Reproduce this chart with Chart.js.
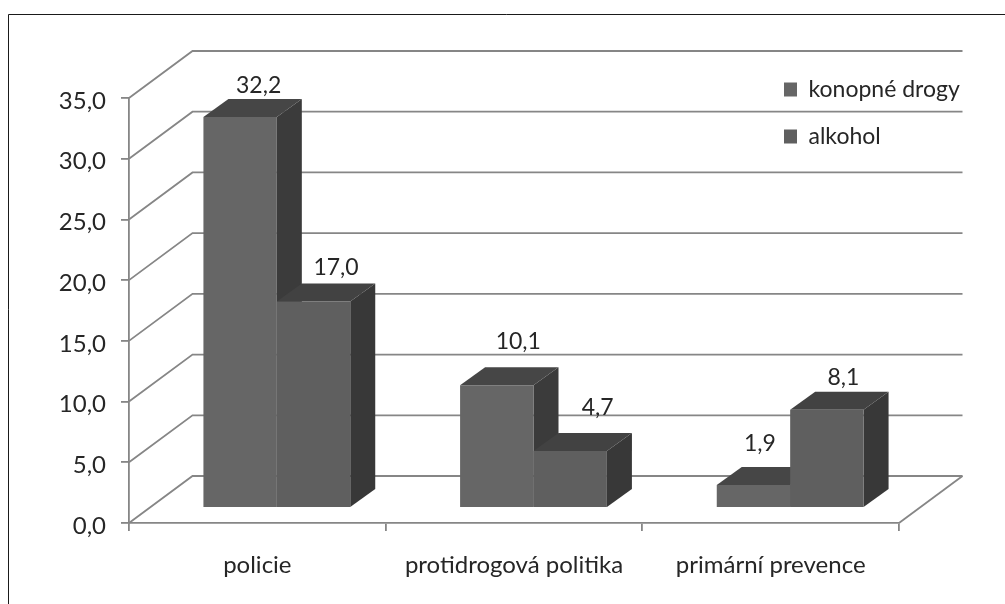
<!DOCTYPE html>
<html>
<head>
<meta charset="utf-8">
<title>konopné drogy / alkohol</title>
<style>
	html, body { margin: 0; padding: 0; background: #ffffff; }
	canvas { display: block; }
</style>
<script src="https://cdn.jsdelivr.net/npm/chart.js@4/dist/chart.umd.min.js"></script>
</head>
<body>
<div style="width:1005px;height:604px"><canvas id="drogy-chart"></canvas></div>
<script>
var categories = ['policie', 'protidrogová politika', 'primární prevence'];
var seriesNames = ['konopné drogy', 'alkohol'];
var konopneDrogy = [32.2, 10.1, 1.9];
var alkohol = [17.0, 4.7, 8.1];
var seriesFront = ['#666666', '#5f5f5f'];
var seriesSide = ['#3b3b3b', '#383838'];
var seriesTop = ['#464646', '#424242'];

// nudges for the value labels, [dx, dy] per series and category
var labelNudge = [
	[[6, 2], [9, -11], [-6, -8]],
	[[10, -1], [15, -10], [4, 1]]
];

var gridColor = '#868686';
var textColor = '#262626';
var fontName = 'Lato, Carlito, sans-serif';

// floor geometry of the fake 3D box, in pixels
var wallDx = 63.5, wallDy = 47;   // front axis to back wall
var barDx = 19.5, barDy = 15;     // front axis to bar front
var depthDx = 25, depthDy = 18;   // bar front to bar back

function comma(value) {
	return Number(value).toFixed(1).replace('.', ',');
}

function line(ctx, points) {
	ctx.beginPath();
	ctx.moveTo(points[0][0], points[0][1]);
	for (var i = 1; i < points.length; i++) {
		ctx.lineTo(points[i][0], points[i][1]);
	}
	ctx.stroke();
}

function poly(ctx, points, color) {
	ctx.beginPath();
	ctx.moveTo(points[0][0], points[0][1]);
	for (var i = 1; i < points.length; i++) {
		ctx.lineTo(points[i][0], points[i][1]);
	}
	ctx.closePath();
	ctx.fillStyle = color;
	ctx.fill();
}

var boxPlugin = {
	id: 'box3d',
	afterLayout: function(chart) {
		// the legend floats over the back wall
		var legend = chart.legend;
		var pad = legend.options.labels.padding;
		legend.left = 784 - pad;
		legend.top = 78 - pad;
		legend.right = 1000;
		legend.bottom = 300;
		legend.width = legend.right - legend.left;
		legend.height = legend.bottom - legend.top;
	},
	beforeDraw: function(chart) {
		var ctx = chart.ctx;
		ctx.save();
		ctx.strokeStyle = '#1a1a1a';
		ctx.lineWidth = 1;
		line(ctx, [[8.5, 604], [8.5, 14.5], [1005, 14.5]]);
		ctx.restore();
	},
	beforeDatasetsDraw: function(chart) {
		var ctx = chart.ctx;
		var area = chart.chartArea;
		var yScale = chart.scales.y;
		ctx.save();
		ctx.strokeStyle = gridColor;
		ctx.lineWidth = 1.8;
		yScale.ticks.forEach(function(tick) {
			var y = yScale.getPixelForValue(tick.value);
			line(ctx, [[area.left, y], [area.left + wallDx, y - wallDy], [area.right + wallDx, y - wallDy]]);
		});
		var floorY = yScale.getPixelForValue(0);
		line(ctx, [[area.right, floorY], [area.right + wallDx, floorY - wallDy]]);

		// side and top faces, the library draws the front faces over them
		chart.data.datasets.forEach(function(ds, d) {
			chart.getDatasetMeta(d).data.forEach(function(bar) {
				var l = bar.x - bar.width / 2 + barDx;
				var r = bar.x + bar.width / 2 + barDx;
				var t = bar.y - barDy;
				var b = bar.base - barDy;
				poly(ctx, [[r, t], [r + depthDx, t - depthDy], [r + depthDx, b - depthDy], [r, b]], seriesSide[d]);
				poly(ctx, [[l, t], [l + depthDx, t - depthDy], [r + depthDx, t - depthDy], [r, t]], seriesTop[d]);
			});
		});
		ctx.restore();

		ctx.save();
		ctx.translate(barDx, -barDy);
	},
	afterDatasetsDraw: function(chart) {
		var ctx = chart.ctx;
		ctx.restore();

		ctx.save();
		ctx.fillStyle = textColor;
		ctx.font = '23px ' + fontName;
		ctx.textAlign = 'center';
		ctx.textBaseline = 'middle';
		chart.data.datasets.forEach(function(ds, d) {
			chart.getDatasetMeta(d).data.forEach(function(bar, i) {
				var nudge = labelNudge[d][i];
				ctx.fillText(comma(ds.data[i]), bar.x + barDx + depthDx / 2 + nudge[0], bar.y - barDy - depthDy - 15 + nudge[1]);
			});
		});
		ctx.restore();
	}
};

window.addEventListener('load', function(){
	var ctx = document.getElementById('drogy-chart').getContext('2d');
	new Chart(ctx, {
		type: 'bar',
		plugins: [boxPlugin],
		data: {
			labels: categories,
			datasets: [
				{ label: seriesNames[0], data: konopneDrogy, backgroundColor: seriesFront[0] },
				{ label: seriesNames[1], data: alkohol, backgroundColor: seriesFront[1] }
			]
		},
		options: {
			responsive: true,
			maintainAspectRatio: false,
			animation: false,
			events: [],
			categoryPercentage: 0.572,
			barPercentage: 1,
			layout: {
				padding: { left: 24, top: 98, right: 106, bottom: 0 }
			},
			plugins: {
				title: { display: false },
				tooltip: { enabled: false },
				legend: {
					position: 'chartArea',
					align: 'start',
					labels: {
						boxWidth: 13,
						boxHeight: 14,
						padding: 24,
						color: textColor,
						font: { family: fontName, size: 23 }
					}
				}
			},
			scales: {
				x: {
					afterFit: function(scale) { scale.height = 81; },
					border: { color: gridColor, width: 1.8 },
					grid: { color: gridColor, lineWidth: 1.8, drawOnChartArea: false, tickLength: 8 },
					ticks: {
						color: textColor,
						padding: 20,
						maxRotation: 0,
						font: { family: fontName, size: 24 }
					}
				},
				y: {
					min: 0,
					max: 35,
					afterFit: function(scale) { scale.width = 105; },
					border: { color: gridColor, width: 1.8 },
					grid: { color: gridColor, lineWidth: 1.8, drawOnChartArea: false, tickLength: 8 },
					ticks: {
						stepSize: 5,
						color: textColor,
						padding: 15,
						labelOffset: 3,
						font: { family: fontName, size: 24 },
						callback: function(value) { return comma(value); }
					}
				}
			}
		}
	});
});
</script>
</body>
</html>
